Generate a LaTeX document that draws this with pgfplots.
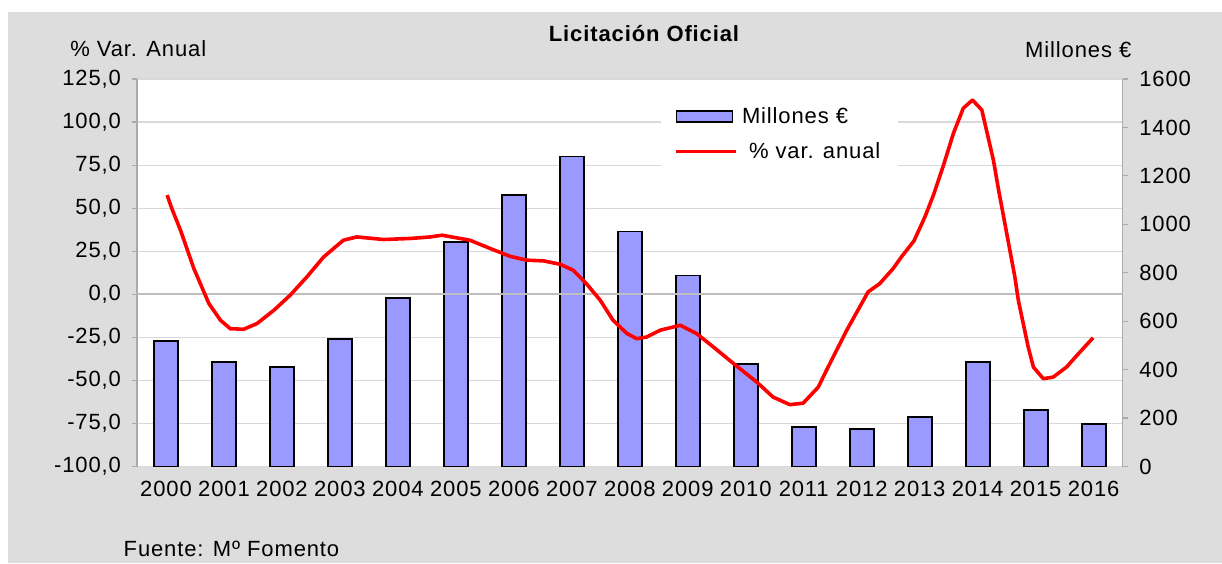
\documentclass[border=0pt]{standalone}
\usepackage{fontspec}
\setmainfont{Liberation Sans}[LetterSpace=4]
\usepackage{pgfplots}
\pgfplotsset{compat=1.18}

\definecolor{bgray}{RGB}{221,221,221}
\definecolor{gridc}{RGB}{217,217,217}
\definecolor{zeroc}{RGB}{190,190,190}
\definecolor{axc}{RGB}{170,170,170}
\definecolor{barc}{RGB}{153,153,255}

% bars: millones de euros (eje derecho)
\pgfplotstableread{
year  mill
2000  519
2001  432
2002  411
2003  527
2004  695
2005  928
2006  1122
2007  1280
2008  970
2009  789
2010  424
2011  162
2012  155
2013  205
2014  432
2015  234
2016  177
}\millones

% line: % var. anual (eje izquierdo)
\pgfplotstableread{
x        v
2000.02  57.6
2000.10  49.8
2000.25  37.2
2000.48  15.0
2000.74  -5.4
2000.94  -15.1
2001.11  -20.0
2001.34  -20.3
2001.57  -17.0
2001.86  -9.3
2002.14  -0.6
2002.43  10.1
2002.72  21.7
2003.06  31.4
2003.29  33.3
2003.75  31.8
2004.21  32.4
2004.56  33.3
2004.76  34.3
2005.24  31.4
2005.59  26.6
2005.93  22.1
2006.22  19.8
2006.51  19.4
2006.80  17.4
2007.02  14.0
2007.25  6.2
2007.49  -3.5
2007.71  -15.1
2007.95  -22.8
2008.12  -25.8
2008.29  -24.8
2008.52  -20.9
2008.87  -18.0
2009.15  -22.8
2009.44  -30.6
2009.78  -40.0
2010.19  -51.0
2010.47  -59.7
2010.76  -64.1
2010.99  -63.2
2011.25  -53.9
2011.39  -44.2
2011.74  -20.9
2012.11  1.4
2012.31  6.2
2012.54  14.9
2012.69  22.0
2012.90  31.0
2013.09  45.0
2013.24  58.0
2013.41  75.0
2013.58  93.4
2013.75  108.0
2013.91  112.8
2014.07  107.0
2014.27  77.9
2014.36  60.5
2014.50  35.3
2014.64  10.1
2014.70  -3.5
2014.87  -30.6
2014.96  -42.3
2015.13  -49.0
2015.30  -48.1
2015.53  -42.3
2015.71  -35.5
2015.99  -25.2
}\variacion

\pgfplotsset{
  base/.style={at={(68.5pt,48.25pt)}, anchor=south west, scale only axis,
    width=492.85pt, height=193.75pt, xmin=1999.5, xmax=2016.5,
    tick label style={font=\fontsize{11}{13.2}\selectfont},
    tick align=outside, major tick length=2.5pt},
}

\begin{document}
\begin{tikzpicture}[font=\fontsize{11}{13.2}\selectfont]
\fill[white] (0,0) rectangle (611pt,281.5pt);
\fill[bgray] (4pt,0) rectangle (611pt,275.5pt);

% left axis, grid
\begin{axis}[base, ymin=-100, ymax=125,
  axis background/.style={fill=white},
  axis y line*=left, axis x line*=bottom,
  x axis line style={draw=none}, y axis line style={axc, line width=0.6pt},
  ytick={-100,-75,...,125},
  yticklabels={{-100,0},{-75,0},{-50,0},{-25,0},{0,0},{25,0},{50,0},{75,0},{100,0},{125,0}},
  ymajorgrids, grid style={gridc, line width=0.6pt},
  ytick style={axc, line width=0.6pt},
  xtick={2000,...,2016}, xtick style={draw=none},
  xticklabels={2000,2001,2002,2003,2004,2005,2006,2007,2008,2009,2010,2011,2012,2013,2014,2015,2016},
  yticklabel style={xshift=-2pt},
  xticklabel style={yshift=-1.2pt},
]
\end{axis}

% right axis, bars
\begin{axis}[base, ymin=0, ymax=1600,
  axis y line*=right, axis x line=none,
  y axis line style={axc, line width=0.6pt},
  ytick={0,200,...,1600},
  yticklabels={0,200,400,600,800,1000,1200,1400,1600},
  ytick style={axc, line width=0.6pt},
  yticklabel style={xshift=2.3pt},
]
\addplot[ybar, bar width=12pt, fill=barc, draw=black, line width=0.9pt] table[x=year, y=mill] {\millones};
\end{axis}

% line on the left scale
\begin{axis}[base, ymin=-100, ymax=125, hide axis,
  legend style={at={(0.531,0.959)}, anchor=north west, draw=none, fill=white,
    font=\fontsize{11}{13.2}\selectfont, inner xsep=7pt, inner ysep=4pt, row sep=4pt},
  legend cell align=left,
]
\addplot[zeroc, line width=1pt, forget plot] coordinates {(1999.5,0) (2016.5,0)};
\addlegendimage{legend image code/.code={\draw[fill=barc, draw=black, line width=0.9pt] (0pt,-2.75pt) rectangle (28pt,2.75pt);}}
\addlegendentry{Millones €}
\addplot[red, line width=1.8pt, line join=round,
  legend image code/.code={\draw[red, line width=1.6pt] (0pt,0pt) -- (30pt,0pt);}]
  table[x=x, y=v] {\variacion};
\addlegendentry{\ \% var. anual}
\end{axis}

\node[anchor=base, font=\fontsize{11}{13.2}\selectfont\bfseries] at (322pt,260.65pt) {Licitación Oficial};
\node[anchor=base west, inner sep=0pt] at (35pt,253.15pt) {\% Var. Anual};
\node[anchor=base east, inner sep=0pt] at (565.85pt,252.85pt) {Millones €};
\node[anchor=base west, inner sep=0pt] at (61.65pt,3.15pt) {Fuente: Mº Fomento};
\end{tikzpicture}
\end{document}
